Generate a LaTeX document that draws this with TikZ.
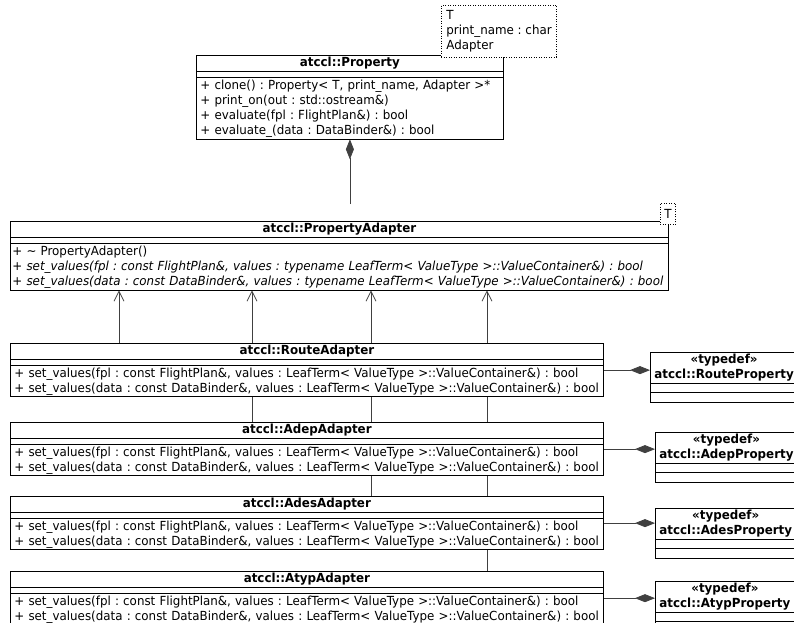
\documentclass[tikz,border=0pt]{standalone}
\usepackage{fontspec}
\setmainfont[FakeStretch=0.95]{DejaVu Sans}
\usetikzlibrary{shapes.multipart,arrows.meta,calc}
\pgfdeclarelayer{edges}
\pgfsetlayers{edges,main}
\newcommand\umlfont{\fontsize{12.5}{15}\selectfont\frenchspacing}
\newcommand\umltitle[1]{\hbox to\hsize{\hfil\bfseries #1\hfil}}
\newcommand\umlempty{\rule{0pt}{2.5pt}}
\newcommand\setvals{+ set\_values(fpl : const FlightPlan\&, values : LeafTerm< ValueType >::ValueContainer\&) : bool\\
+ set\_values(data : const DataBinder\&, values : LeafTerm< ValueType >::ValueContainer\&) : bool}
\tikzset{
  umlclass/.style={draw,line width=0.8pt,fill=white,rectangle split,rectangle split parts=3,anchor=north west,inner xsep=4pt,inner ysep=1.5pt,font=\umlfont,text width=#1,align=left},
  umltypedef/.style={draw,line width=0.8pt,fill=white,rectangle split,rectangle split parts=3,rectangle split empty part height=2.5pt,anchor=north west,inner xsep=4pt,inner ysep=1.5pt,font=\umlfont\bfseries,align=center},
  tparam/.style={draw,line width=0.8pt,dash pattern=on 1pt off 1.5pt,fill=white,anchor=north west,align=left,inner xsep=5pt,inner ysep=5pt,font=\umlfont},
  inherit/.style={draw=black!75,line width=0.8pt,-{Straight Barb[length=10pt,width=10pt]}},
  compose/.style={draw=black!75,line width=0.8pt,-{Diamond[length=20pt,width=8pt]}},
}

\begin{document}
\begin{tikzpicture}[x=1pt,y=-1pt]
  \useasboundingbox (0,0) rectangle (794,622);
  % classes
  \node[umlclass=299pt] (property) at (196,55) {\umltitle{atccl::Property}\nodepart{two}\umlempty\nodepart{three}+ clone() : Property< T, print\_name, Adapter >*\\+ print\_on(out : std::ostream\&)\\+ evaluate(fpl : FlightPlan\&) : bool\\+ evaluate\_(data : DataBinder\&) : bool};
  \node[tparam] (propT) at (441,5) {T\\print\_name : char\\Adapter};
  \node[umlclass=654pt,inner xsep=2pt] (adapter) at (10,221) {\umltitle{atccl::PropertyAdapter}\nodepart{two}\umlempty\nodepart{three}+ \textasciitilde\ PropertyAdapter()\\\mbox{+ \textit{set\_values(fpl : const FlightPlan\&, values : typename LeafTerm< ValueType >::ValueContainer\&) : bool}}\\\mbox{+ \textit{set\_values(data : const DataBinder\&, values : typename LeafTerm< ValueType >::ValueContainer\&) : bool}}};
  \node[tparam,inner ysep=6pt,inner xsep=4pt] (adapterT) at (660,203) {T};
  \node[umlclass=585pt] (route) at (10,343) {\umltitle{atccl::RouteAdapter}\nodepart{two}\umlempty\nodepart{three}\setvals};
  \node[umlclass=585pt] (adep) at (10,422) {\umltitle{atccl::AdepAdapter}\nodepart{two}\umlempty\nodepart{three}\setvals};
  \node[umlclass=585pt] (ades) at (10,496) {\umltitle{atccl::AdesAdapter}\nodepart{two}\umlempty\nodepart{three}\setvals};
  \node[umlclass=585pt] (atyp) at (10,571) {\umltitle{atccl::AtypAdapter}\nodepart{two}\umlempty\nodepart{three}\setvals};
  % typedefs
  \node[umltypedef] (routeprop) at (650,352) {«typedef»\\atccl::RouteProperty\nodepart{two}\nodepart{three}};
  \node[umltypedef] (adepprop) at (655,432) {«typedef»\\atccl::AdepProperty\nodepart{two}\nodepart{three}};
  \node[umltypedef] (adesprop) at (655,508) {«typedef»\\atccl::AdesProperty\nodepart{two}\nodepart{three}};
  \node[umltypedef] (atypprop) at (655,581) {«typedef»\\atccl::AtypProperty\nodepart{two}\nodepart{three}};
  % connectors
  \begin{pgfonlayer}{edges}
    \coordinate (propgap) at ($(property.south |- adapter.north)+(0,-17)$);
    \draw[compose] (propgap) -- (property.south);
    \coordinate (routeup) at ($(route.north west)+(109,0)$);
    \coordinate (adepup) at ($(adep.north west)+(242,0)$);
    \coordinate (adesup) at ($(ades.north west)+(361,0)$);
    \coordinate (atypup) at ($(atyp.north west)+(477,0)$);
    \foreach \c in {routeup,adepup,adesup,atypup}
      \draw[inherit] (\c) -- (\c |- adapter.south);
    \draw[compose] (route.east) -- (route.east -| routeprop.west);
    \draw[compose] (adep.east) -- (adep.east -| adepprop.west);
    \draw[compose] (ades.east) -- (ades.east -| adesprop.west);
    \draw[compose] (atyp.east) -- (atyp.east -| atypprop.west);
  \end{pgfonlayer}
\end{tikzpicture}
\end{document}
